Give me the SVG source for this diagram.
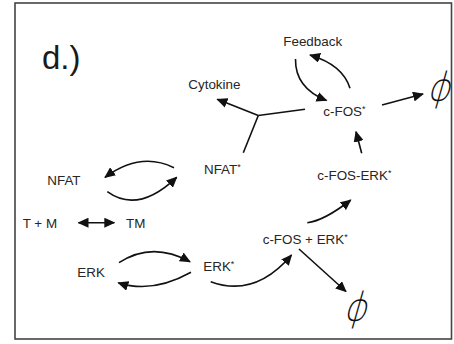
<svg xmlns="http://www.w3.org/2000/svg" width="454" height="344" viewBox="0 0 454 344">
  <style>
    .lbl { font-family: "Liberation Sans", Arial, sans-serif; font-size: 13.4px; fill: #262626; }
    .ast { font-size: 9px; }
    .edge { fill: none; stroke: #111; stroke-width: 1.6; }
    .sink { font-family: Lato, "Noto Sans", sans-serif; font-weight: 300; font-size: 43px; fill: #111; }
  </style>
  <defs>
    <marker id="head" viewBox="0 0 11 10" refX="10" refY="5" markerWidth="11" markerHeight="10" markerUnits="userSpaceOnUse" orient="auto-start-reverse">
      <path d="M0,0 L11,5 L0,10 z" fill="#111"/>
    </marker>
  </defs>

  <rect x="15" y="3" width="436.5" height="336" fill="#fff" stroke="#444" stroke-width="1.6"/>

  <text x="42" y="69" font-family="Liberation Sans, Arial, sans-serif" font-size="33" fill="#1a1a1a">d.)</text>

  <g id="connectors">
    <!-- feedback loop -->
    <path class="edge" d="M295.5,59 Q295,88 326.5,100.5" marker-end="url(#head)"/>
    <path class="edge" d="M350,88.3 Q343,65 310,55" marker-end="url(#head)"/>
    <!-- c-FOS* degradation -->
    <path class="edge" d="M382,105 L423,94" marker-end="url(#head)"/>
    <!-- cytokine junction -->
    <path class="edge" d="M305,109.3 L258.3,115.5"/>
    <path class="edge" d="M243.3,152.7 L258.3,115.5"/>
    <path class="edge" d="M258.3,115.5 L217.3,99.3" marker-end="url(#head)"/>
    <!-- NFAT cycle -->
    <path class="edge" d="M174,167.7 Q140.5,151 105,177.3" marker-end="url(#head)"/>
    <path class="edge" d="M107.3,191.7 Q138,214 176.7,177.3" marker-end="url(#head)"/>
    <!-- T + M binding -->
    <path class="edge" d="M78.5,222.7 L114.3,222.7" marker-start="url(#head)" marker-end="url(#head)"/>
    <!-- ERK cycle -->
    <path class="edge" d="M119,262.7 Q152,241 190,261.7" marker-end="url(#head)"/>
    <path class="edge" d="M191,272.3 Q152,294 118.3,282.7" marker-end="url(#head)"/>
    <path class="edge" d="M210.7,281.7 Q255,298 291.5,255" marker-end="url(#head)"/>
    <!-- complex formation -->
    <path class="edge" d="M307.3,222.7 Q324.4,220.6 350.7,200" marker-end="url(#head)"/>
    <path class="edge" d="M361.7,153.3 L356,131.7" marker-end="url(#head)"/>
    <path class="edge" d="M299,249 L346,291.5" marker-end="url(#head)"/>
  </g>

  <g id="feedback"><text class="lbl" x="283.3" y="46.3">Feedback</text></g>
  <g id="cytokine"><text class="lbl" x="188.3" y="88.7">Cytokine</text></g>
  <g id="cfos-active"><text class="lbl" x="323.3" y="116">c-FOS<tspan class="ast" dy="-4">*</tspan></text></g>
  <g id="nfat-active"><text class="lbl" x="204" y="173.5">NFAT<tspan class="ast" dy="-4">*</tspan></text></g>
  <g id="nfat"><text class="lbl" x="47.3" y="185">NFAT</text></g>
  <g id="cfos-erk"><text class="lbl" x="317.3" y="179.5">c-FOS-ERK<tspan class="ast" dy="-4">*</tspan></text></g>
  <g id="t-m"><text class="lbl" x="22.7" y="228.3">T + M</text></g>
  <g id="tm"><text class="lbl" x="126" y="228.3">TM</text></g>
  <g id="cfos-plus-erk"><text class="lbl" x="262.7" y="243.5">c-FOS + ERK<tspan class="ast" dy="-4">*</tspan></text></g>
  <g id="erk"><text class="lbl" x="77.3" y="276.7">ERK</text></g>
  <g id="erk-active"><text class="lbl" x="203.3" y="270.7">ERK<tspan class="ast" dy="-4">*</tspan></text></g>

  <!-- degradation sinks: narrowed, slanted phi -->
  <g id="sink-top"><text class="sink" x="0" y="0" transform="translate(427.5,100.5) skewX(-16) scale(0.7,1)">ϕ</text></g>
  <g id="sink-bottom"><text class="sink" x="0" y="0" transform="translate(344,320.5) skewX(-16) scale(0.7,1)">ϕ</text></g>
</svg>
